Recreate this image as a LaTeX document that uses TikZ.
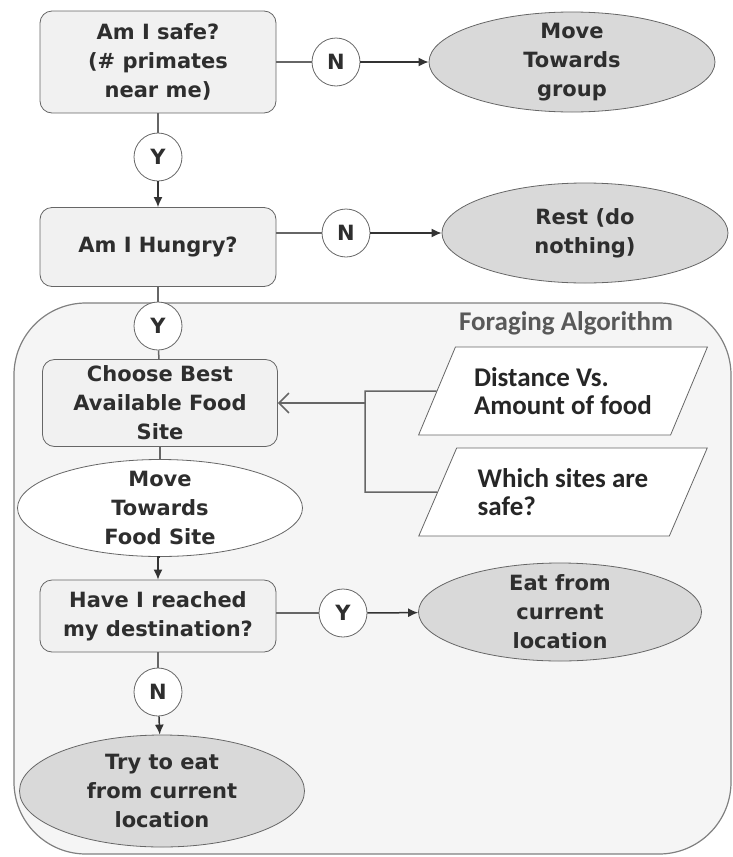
\documentclass[tikz,border=0pt]{standalone}
\usepackage{fontspec}
\setmainfont{DejaVu Sans}
\newfontfamily\calibri{Carlito}
\usetikzlibrary{shapes.geometric, arrows.meta}
\definecolor{txtgray}{HTML}{2E2E2E}
\definecolor{linegray}{HTML}{666666}
\definecolor{boxfill}{HTML}{F1F1F1}
\definecolor{ovalfill}{HTML}{D9D9D9}
\definecolor{areafill}{HTML}{F5F5F5}
\definecolor{arealine}{HTML}{808080}

\begin{document}
\begin{tikzpicture}[x=0.5pt, y=-0.5pt,
  every node/.style={font=\bfseries\fontsize{10.5}{14.5}\selectfont, text=txtgray},
  decision/.style={draw=linegray, fill=boxfill, rounded corners=6pt, minimum width=118pt,
    align=center, inner sep=0pt},
  answer/.style={circle, draw=linegray, fill=white, minimum size=24pt, inner sep=0pt},
  oval/.style={ellipse, draw=linegray, fill=ovalfill, minimum width=143pt, minimum height=50pt,
    inner sep=0pt},
  ovaltext/.style={align=center, fill=none, draw=none},
  datain/.style={trapezium, trapezium left angle=60, trapezium right angle=120,
    trapezium stretches=true, draw=linegray, fill=white, minimum width=144.5pt,
    minimum height=44pt, inner sep=2pt, align=left,
    font=\calibri\bfseries\fontsize{13.5}{14}\selectfont, text=black!85},
  flow/.style={draw=linegray, line width=0.75pt},
  arr/.style={-{Latex[length=5pt,width=4.5pt]}, draw=black!80},
  openarr/.style={-{Straight Barb[length=5pt,width=10pt]}},
]
  \useasboundingbox (0,0) rectangle (733,857);

  % foraging area
  \draw[fill=areafill, draw=arealine, line width=0.6pt, rounded corners=36pt]
    (14,303) rectangle (731,854);
  \node[font=\calibri\bfseries\fontsize{13.5}{14}\selectfont, text=black!65] (foragetitle)
    at (566,323) {Foraging Algorithm};

  % safety check
  \node[decision, minimum height=51pt] (safe) at (158,62) {Am I safe?\\(\# primates\\near me)};
  \node[answer] (nsafe) at (336,62) {N};
  \node[oval, label={[ovaltext]center:Move\\Towards\\group}] (group) at (572,62) {};
  \node[answer] (ysafe) at (158,157) {Y};

  % hunger check
  \node[decision, minimum height=39.5pt] (hungry) at (158,247) {Am I Hungry?};
  \node[answer] (nhungry) at (346,233) {N};
  \node[oval, label={[ovaltext]center:Rest (do\\nothing)}] (rest) at (585,233) {};
  \node[answer] (yhungry) at (158,326) {Y};

  % choosing a site
  \node[decision, minimum height=43.5pt, minimum width=117.5pt] (choose) at (160,403)
    {Choose Best\\Available Food\\Site};
  \node[datain] (dist) at (563,391) {Distance Vs.\\Amount of food};
  \node[datain] (sites) at (563,492) {Which sites are\\safe?};
  \coordinate (jtop) at (365,391);
  \coordinate (jbot) at (365,492);
  \coordinate (jmid) at (365,403);
  \node[oval, fill=white, minimum width=142.5pt, minimum height=48.5pt,
    label={[ovaltext]center:Move\\Towards\\Food Site}] (foodsite) at (160,508) {};

  % destination check
  \node[decision, minimum height=36pt] (reached) at (158,616) {Have I reached\\my destination?};
  \node[answer] (yreached) at (343,613) {Y};
  \node[oval, minimum width=141.5pt, minimum height=49pt,
    label={[ovaltext]center:Eat from\\current\\location}] (eat) at (560,612) {};
  \node[answer] (nreached) at (158,692) {N};
  \node[oval, minimum width=142.5pt, minimum height=56pt,
    label={[ovaltext]center:Try to eat\\from current\\location}] (tryeat) at (162,791) {};

  % connectors
  \draw[flow] (safe) -- (nsafe);
  \draw[flow, arr] (nsafe) -- (group);
  \draw[flow] (safe) -- (ysafe);
  \draw[flow, arr] (ysafe) -- (hungry);
  \draw[flow] (hungry.east |- nhungry) -- (nhungry);
  \draw[flow, arr] (nhungry) -- (rest);
  \draw[flow] (hungry) -- (yhungry);
  \draw[flow] (yhungry) -- (choose);
  \draw[flow] (dist.west) -- (jtop) -- (jbot) -- (sites.west);
  \draw[flow, openarr] (jmid) -- (choose);
  \draw[flow] (choose.south) -- (choose.south |- foodsite.north);
  \draw[flow, arr] (foodsite.south) -- (foodsite.south -| reached) -- (reached);
  \draw[flow] (reached.east |- yreached) -- (yreached);
  \draw[flow, arr] (yreached) -- (eat);
  \draw[flow] (reached) -- (nreached);
  \draw[flow, arr] (nreached) -- (tryeat);
\end{tikzpicture}
\end{document}
